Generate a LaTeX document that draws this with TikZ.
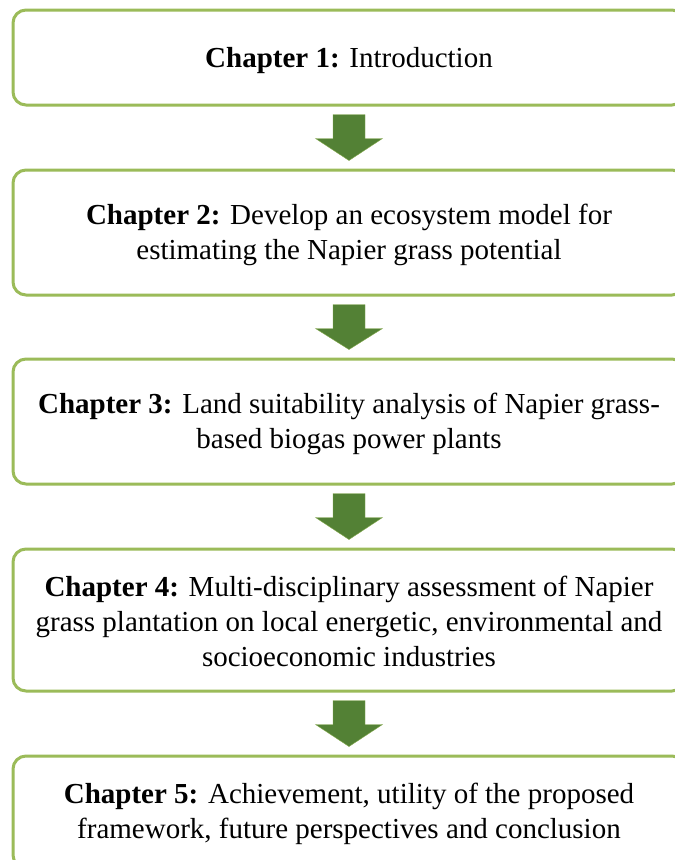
\documentclass[tikz,border=0pt]{standalone}
\usepackage{fontspec}
\setmainfont{Liberation Serif}
\usetikzlibrary{calc}
\definecolor{boxgreen}{HTML}{9BBB59}
\definecolor{arrowgreen}{HTML}{538135}
\tikzset{
  chapbox/.style={draw=boxgreen, line width=3pt, rounded corners=13pt, fill=white,
    minimum width=672pt, inner sep=0pt},
  chaptext/.style={align=center, inner sep=0pt,
    font=\fontsize{29}{35}\selectfont, text=black},
  arrowshape/.style={fill=arrowgreen, draw=boxgreen!70!arrowgreen, line width=0.4pt, line join=miter}
}
\newcommand{\blockarrow}[2]{%
  \path[arrowshape] let \p1=(#1.south), \p2=(#2.north) in
    (\x1-16pt,\y1-8pt) -- (\x1+16pt,\y1-8pt) -- (\x1+16pt,\y1-32pt) -- (\x1+33.5pt,\y1-32pt)
    -- (\x1,\y2+8pt) -- (\x1-33.5pt,\y1-32pt) -- (\x1-16pt,\y1-32pt) -- cycle;}
\begin{document}
\begin{tikzpicture}[x=1pt,y=-1pt]
\path[use as bounding box, clip] (0,0) rectangle (675,860);
\fill[white] (0,0) rectangle (675,860);
\node[chapbox, minimum height=95pt] (b1) at (349,57.5) {};
\node[chapbox, minimum height=125pt] (b2) at (349,232.5) {};
\node[chapbox, minimum height=125pt] (b3) at (349,421.5) {};
\node[chapbox, minimum height=142pt] (b4) at (349,620) {};
\node[chapbox, minimum height=112pt] (b5) at (349,812) {};
\node[chaptext] (t1) at ($(b1.center)+(0,3)$) {\textbf{Chapter 1:} Introduction};
\node[chaptext] (t2) at ($(b2.center)+(0,2)$) {\textbf{Chapter 2:} Develop an ecosystem model for\\estimating the Napier grass potential};
\node[chaptext] (t3) at ($(b3.center)+(0,2)$) {\textbf{Chapter 3:} Land suitability analysis of Napier grass-\\based biogas power plants};
\node[chaptext] (t4) at ($(b4.center)+(0,1)$) {\textbf{Chapter 4:} Multi-disciplinary assessment of Napier\\grass plantation on local energetic, environmental and\\socioeconomic industries};
\node[chaptext] (t5) at ($(b5.center)+(0,2)$) {\textbf{Chapter 5:} Achievement, utility of the proposed\\framework, future perspectives and conclusion};
\blockarrow{b1}{b2}
\blockarrow{b2}{b3}
\blockarrow{b3}{b4}
\blockarrow{b4}{b5}
\end{tikzpicture}
\end{document}
